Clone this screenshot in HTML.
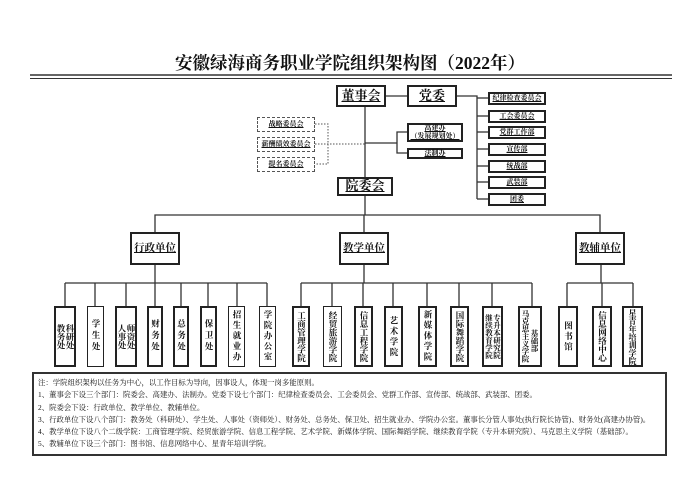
<!DOCTYPE html>
<html><head><meta charset="utf-8"><style>
body{margin:0;background:#fff;width:700px;height:494px;position:relative;overflow:hidden;font-family:"Liberation Serif","Noto Serif CJK SC",serif;color:#111}
.b{position:absolute;box-sizing:border-box;border:2px solid #222;background:#fff;display:flex;align-items:center;justify-content:center;text-align:center;line-height:1.1;white-space:nowrap}
.d{border:1.3px dashed #555}
.v{writing-mode:vertical-rl;font-size:8.5px;line-height:9px;white-space:nowrap;font-weight:bold}
.s{font-weight:bold}
.u{text-decoration:underline}
svg{position:absolute;left:0;top:0}
#note{position:absolute;left:32px;top:372px;width:635px;height:84px;box-sizing:border-box;border:2.5px solid #333;padding:3px 4px;font-size:7.4px;line-height:12.3px;white-space:nowrap}
</style></head><body>
<div style="position:absolute;left:0;width:700px;top:50px;text-align:center;font-size:17.5px;font-weight:bold">安徽绿海商务职业学院组织架构图（2022年）</div>
<svg width="700" height="494">
<g stroke="#333" stroke-width="1.3" fill="none">
<line x1="30" y1="75" x2="672" y2="75" stroke-width="1.6"/>
<line x1="30" y1="78.5" x2="672" y2="78.5" stroke-width="1"/>
<line x1="386" y1="96" x2="407" y2="96"/>
<polyline points="457,96 477,96 477,199"/>
<line x1="477" y1="98" x2="488" y2="98"/><line x1="477" y1="116" x2="488" y2="116"/><line x1="477" y1="132" x2="488" y2="132"/><line x1="477" y1="149" x2="488" y2="149"/><line x1="477" y1="166" x2="488" y2="166"/><line x1="477" y1="182" x2="488" y2="182"/><line x1="477" y1="199" x2="488" y2="199"/>
<line x1="365" y1="107" x2="365" y2="177"/>
<line x1="365" y1="143" x2="397" y2="143"/>
<polyline points="407,132 397,132 397,153 407,153"/>
<line x1="365" y1="195" x2="365" y2="215"/>
<polyline points="155,232 155,215 600,215 600,232"/>
<line x1="364" y1="215" x2="364" y2="232"/>
<line x1="155" y1="265" x2="155" y2="283"/>
<line x1="364" y1="265" x2="364" y2="283"/>
<line x1="601" y1="265" x2="601" y2="283"/>
<line x1="65" y1="283" x2="267" y2="283"/>
<line x1="301" y1="283" x2="532" y2="283"/>
<line x1="567" y1="283" x2="633" y2="283"/>
<g>
<line x1="65" y1="283" x2="65" y2="306"/><line x1="95" y1="283" x2="95" y2="306"/><line x1="126" y1="283" x2="126" y2="306"/><line x1="155" y1="283" x2="155" y2="306"/><line x1="181" y1="283" x2="181" y2="306"/><line x1="208" y1="283" x2="208" y2="306"/><line x1="237" y1="283" x2="237" y2="306"/><line x1="267" y1="283" x2="267" y2="306"/>
<line x1="301" y1="283" x2="301" y2="306"/><line x1="332" y1="283" x2="332" y2="306"/><line x1="363" y1="283" x2="363" y2="306"/><line x1="393" y1="283" x2="393" y2="306"/><line x1="427" y1="283" x2="427" y2="306"/><line x1="459" y1="283" x2="459" y2="306"/><line x1="492" y1="283" x2="492" y2="306"/><line x1="532" y1="283" x2="532" y2="306"/>
<line x1="567" y1="283" x2="567" y2="306"/><line x1="602" y1="283" x2="602" y2="306"/><line x1="633" y1="283" x2="633" y2="306"/>
</g>
</g>
<g stroke="#555" stroke-width="1" stroke-dasharray="1.5,1.5" fill="none">
<polyline points="315,124 328,124 328,164 315,164"/>
<line x1="315" y1="144" x2="365" y2="144"/>
</g>
</svg>
<div class="b u s" style="left:336px;top:85px;width:50px;height:22px;font-size:13px">董事会</div>
<div class="b u s" style="left:407px;top:85px;width:50px;height:22px;font-size:13px">党委</div>
<div class="b u s" style="left:488px;top:92px;width:58px;height:13px;font-size:7px">纪律检查委员会</div>
<div class="b u s" style="left:488px;top:110px;width:58px;height:13px;font-size:7px">工会委员会</div>
<div class="b u s" style="left:488px;top:126px;width:58px;height:13px;font-size:7px">党群工作部</div>
<div class="b u s" style="left:488px;top:143px;width:58px;height:13px;font-size:7px">宣传部</div>
<div class="b u s" style="left:488px;top:160px;width:58px;height:13px;font-size:7px">统战部</div>
<div class="b u s" style="left:488px;top:176px;width:58px;height:13px;font-size:7px">武装部</div>
<div class="b u s" style="left:488px;top:193px;width:58px;height:13px;font-size:7px">团委</div>
<div class="b d u s" style="left:257px;top:117px;width:58px;height:15px;font-size:7px">战略委员会</div>
<div class="b d u s" style="left:257px;top:137px;width:58px;height:15px;font-size:7px">薪酬绩效委员会</div>
<div class="b d u s" style="left:257px;top:157px;width:58px;height:15px;font-size:7px">提名委员会</div>
<div class="b u s" style="left:407px;top:123px;width:56px;height:19px;font-size:7px">高建办<br>（发展规划处）</div>
<div class="b u s" style="left:407px;top:148px;width:56px;height:11px;font-size:7px">法制办</div>
<div class="b u s" style="left:337px;top:177px;width:56px;height:19px;font-size:13px">院委会</div>
<div class="b u s" style="left:130px;top:232px;width:50px;height:33px;font-size:10.5px">行政单位</div>
<div class="b u s" style="left:339px;top:232px;width:50px;height:33px;font-size:10.5px">教学单位</div>
<div class="b u s" style="left:575px;top:232px;width:50px;height:33px;font-size:10.5px">教辅单位</div>

<div class="b" style="left:54px;top:306px;width:22px;height:61px"><span class="v">科研处<br>教务处</span></div>
<div class="b" style="left:87px;top:306px;width:17px;height:61px;border-width:1.3px"><span class="v" style="letter-spacing:3px">学生处</span></div>
<div class="b" style="left:115px;top:306px;width:22px;height:61px"><span class="v">师资处<br>人事处</span></div>
<div class="b" style="left:147px;top:306px;width:16px;height:61px"><span class="v" style="letter-spacing:3px">财务处</span></div>
<div class="b" style="left:173px;top:306px;width:16px;height:61px"><span class="v" style="letter-spacing:3px">总务处</span></div>
<div class="b" style="left:200px;top:306px;width:17px;height:61px"><span class="v" style="letter-spacing:3px">保卫处</span></div>
<div class="b" style="left:228px;top:306px;width:17px;height:61px;border-width:1.3px"><span class="v" style="letter-spacing:2px">招生就业办</span></div>
<div class="b" style="left:259px;top:306px;width:17px;height:61px;border-width:1.3px"><span class="v" style="letter-spacing:2px">学院办公室</span></div>

<div class="b" style="left:292px;top:306px;width:18px;height:61px"><span class="v">工商管理学院</span></div>
<div class="b" style="left:323px;top:306px;width:19px;height:61px;border-width:1.3px"><span class="v">经贸旅游学院</span></div>
<div class="b" style="left:354px;top:306px;width:19px;height:61px"><span class="v">信息工程学院</span></div>
<div class="b" style="left:384px;top:306px;width:19px;height:61px"><span class="v" style="letter-spacing:2px">艺术学院</span></div>
<div class="b" style="left:418px;top:306px;width:19px;height:61px"><span class="v" style="letter-spacing:2px">新媒体学院</span></div>
<div class="b" style="left:450px;top:306px;width:19px;height:61px"><span class="v">国际舞蹈学院</span></div>
<div class="b" style="left:482px;top:306px;width:21px;height:61px"><span class="v" style="font-size:7.5px;line-height:8px">专升本研究院<br>继续教育学院</span></div>
<div class="b" style="left:518px;top:306px;width:24px;height:61px"><span class="v" style="font-size:7.5px;line-height:9px">　基础部<br>马克思主义学院</span></div>

<div class="b" style="left:558px;top:306px;width:20px;height:61px"><span class="v" style="letter-spacing:2px">图书馆</span></div>
<div class="b" style="left:592px;top:306px;width:20px;height:61px"><span class="v">信息网络中心</span></div>
<div class="b" style="left:622px;top:306px;width:21px;height:61px"><span class="v" style="font-size:8px">星青年培训学院</span></div>

<div id="note">注：学院组织架构以任务为中心，以工作目标为导向，因事设人，体现一岗多能原则。<br>1、董事会下设三个部门：院委会、高建办、法制办。党委下设七个部门：纪律检查委员会、工会委员会、党群工作部、宣传部、统战部、武装部、团委。<br>2、院委会下设：行政单位、教学单位、教辅单位。<br>3、行政单位下设八个部门：教务处（科研处）、学生处、人事处（资师处）、财务处、总务处、保卫处、招生就业办、学院办公室。董事长分管人事处(执行院长协管)、财务处(高建办协管)。<br>4、教学单位下设八个二级学院：工商管理学院、经贸旅游学院、信息工程学院、艺术学院、新媒体学院、国际舞蹈学院、继续教育学院（专升本研究院）、马克思主义学院（基础部）。<br>5、教辅单位下设三个部门：图书馆、信息网络中心、星青年培训学院。</div>
</body></html>
